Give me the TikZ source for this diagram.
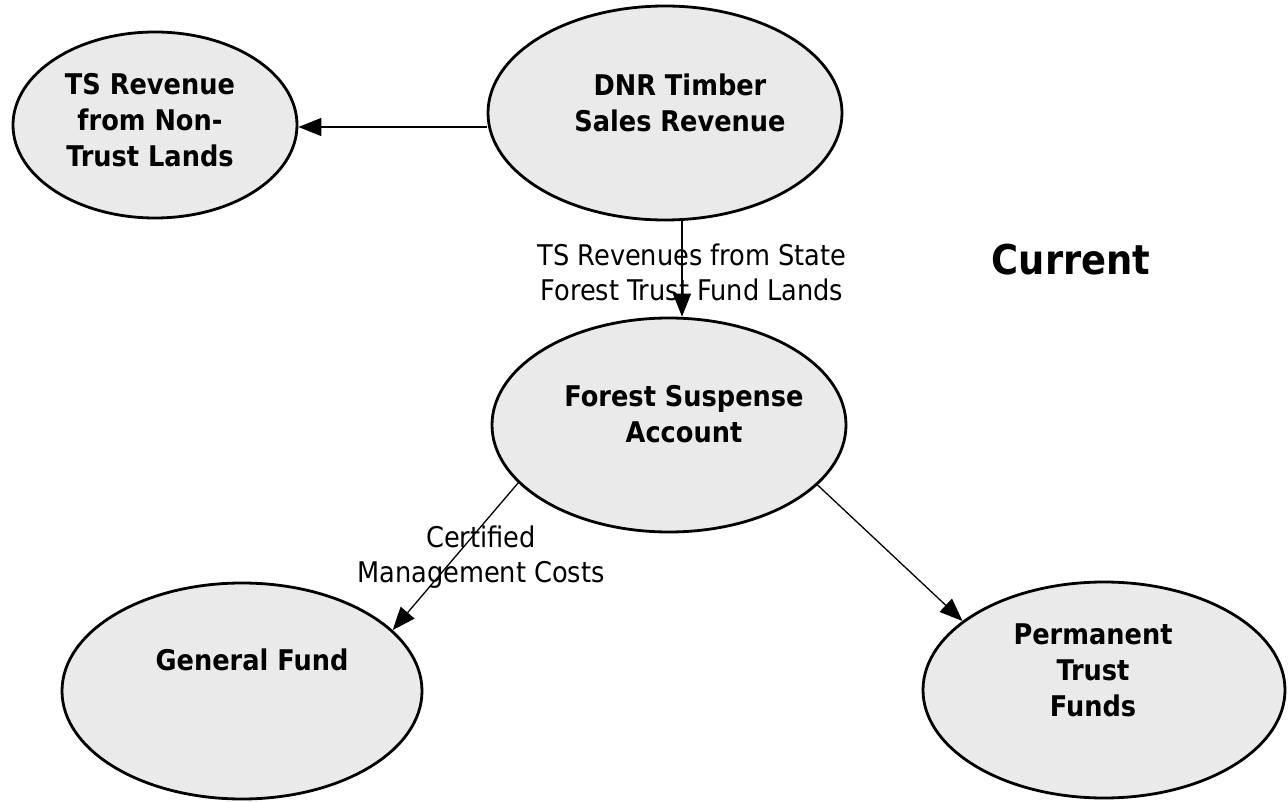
\documentclass[tikz,border=0pt]{standalone}
\usepackage{fontspec}
\setmainfont{DejaVu Sans Condensed}
\usetikzlibrary{arrows.meta,shapes.geometric}
\definecolor{fillgray}{RGB}{234,234,234}
\begin{document}
\begin{tikzpicture}[x=1pt,y=-1pt,
  oval/.style={ellipse,draw=black,line width=2.8pt,fill=fillgray,inner sep=0pt},
  title/.style={font=\bfseries\fontsize{28.5}{36}\selectfont,align=center,inner sep=0pt},
  flow/.style={draw=black,line width=1.3pt,-{Triangle[length=23pt,width=18pt]}},
  edgelab/.style={font=\fontsize{28.5}{35}\selectfont,align=center,inner sep=0pt}]
\useasboundingbox (0,0) rectangle (1288,802);
\fill[white] (0,0) rectangle (1288,802);
% ellipses
\node[oval,minimum width=284pt,minimum height=186pt] (ts)  at (155,125) {};
\node[oval,minimum width=354pt,minimum height=214pt] (dnr) at (665,113) {};
\node[oval,minimum width=354pt,minimum height=214pt] (fsa) at (669,425) {};
\node[oval,minimum width=360pt,minimum height=216pt] (gf)  at (242,691) {};
\node[oval,minimum width=362pt,minimum height=216pt] (ptf) at (1104,690) {};
% texts
\node[title] (tst)  at (150,120) {TS Revenue\\from Non-\\Trust Lands};
\node[title] (dnrt) at (680,103) {DNR Timber\\Sales Revenue};
\node[title] (fsat) at (684,414) {Forest Suspense\\Account};
\node[title] (gft)  at (252,660) {General Fund};
\node[title] (ptft) at (1093,670) {Permanent\\Trust\\Funds};
\node[font=\bfseries\fontsize{41}{48}\selectfont,inner sep=0pt] (cur) at (1071,260) {Current};
% connectors
\draw[flow] (dnr.west |- 0,127) -- (ts.east |- 0,127);
\draw[flow] (dnr.south -| 682,0) -- (fsa.north -| 682,0);
\draw[flow] (fsa.201) -- (gf.22);
\draw[flow] (fsa.338) -- (ptf.154.6);
% edge labels
\node[edgelab] (l1) at (692,272) {TS Revenues from State\\Forest Trust Fund Lands};
\node[edgelab] (l2) at (481,557) {Certified\\Management Costs};
\end{tikzpicture}
\end{document}
